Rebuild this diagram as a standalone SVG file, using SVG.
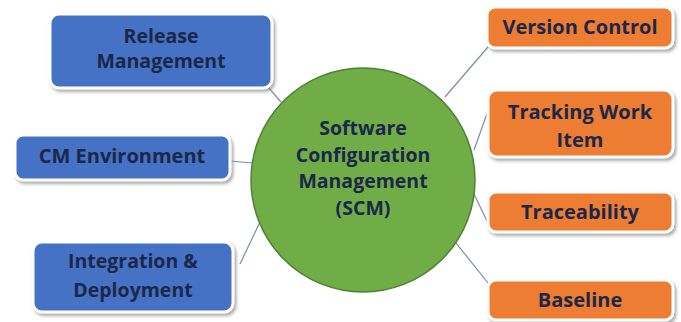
<svg xmlns="http://www.w3.org/2000/svg" width="681" height="322" viewBox="0 0 681 322">
  <defs>
    <filter id="shadow" x="-10%" y="-20%" width="125%" height="150%">
      <feDropShadow dx="2" dy="2.5" stdDeviation="1.5" flood-color="#8a8a8a" flood-opacity="0.7"/>
    </filter>
  </defs>
  <style>
    .box { stroke: #ffffff; stroke-width: 3; filter: url(#shadow); }
    .blue { fill: #4472c4; }
    .orange { fill: #ed7d31; }
    .hub { fill: #70ad47; stroke: #4f7f35; stroke-width: 1.5; }
    .lbl { font-family: "Open Sans", "Liberation Sans", sans-serif; font-weight: 700; fill: #1b2748; text-anchor: middle; }
    .link { stroke: #7c8aa3; stroke-width: 1.2; fill: none; }
  </style>

  <!-- connectors between the hub and the surrounding topics -->
  <g id="connectors">
    <line class="link" x1="262" y1="80" x2="281" y2="102"/>
    <line class="link" x1="230" y1="161" x2="252" y2="163"/>
    <line class="link" x1="240" y1="264" x2="260" y2="222"/>
    <line class="link" x1="488" y1="47" x2="445" y2="97"/>
    <line class="link" x1="489" y1="108" x2="474" y2="150"/>
    <line class="link" x1="473" y1="192" x2="488" y2="223"/>
    <line class="link" x1="452" y1="238" x2="488" y2="283"/>
  </g>

  <!-- central hub -->
  <g id="scm">
    <circle class="hub" cx="363" cy="180" r="112"/>
    <text class="lbl" font-size="19.5" x="363" y="135">Software</text>
    <text class="lbl" font-size="19.5" x="363" y="162">Configuration</text>
    <text class="lbl" font-size="19.5" x="363" y="188">Management</text>
    <text class="lbl" font-size="19.5" x="363" y="215">(SCM)</text>
  </g>

  <!-- left-hand topics -->
  <g id="release-management">
    <rect class="box blue" x="50" y="14" width="222" height="74" rx="9"/>
    <text class="lbl" font-size="19.5" x="161" y="43">Release</text>
    <text class="lbl" font-size="19.5" x="161" y="68">Management</text>
  </g>
  <g id="cm-environment">
    <rect class="box blue" x="15" y="135" width="215" height="45" rx="8"/>
    <text class="lbl" font-size="20" x="122" y="163">CM Environment</text>
  </g>
  <g id="integration-deployment">
    <rect class="box blue" x="33" y="242" width="200" height="70" rx="9"/>
    <text class="lbl" font-size="19.5" x="133" y="268">Integration &amp;</text>
    <text class="lbl" font-size="19.5" x="133" y="297">Deployment</text>
  </g>

  <!-- right-hand topics -->
  <g id="version-control">
    <rect class="box orange" x="487" y="7" width="186" height="41" rx="8"/>
    <text class="lbl" font-size="20" x="580" y="34">Version Control</text>
  </g>
  <g id="tracking-work-item">
    <rect class="box orange" x="488" y="90" width="185" height="67" rx="9"/>
    <text class="lbl" font-size="20" x="580" y="119">Tracking Work</text>
    <text class="lbl" font-size="20" x="580" y="147">Item</text>
  </g>
  <g id="traceability">
    <rect class="box orange" x="488" y="192" width="185" height="40" rx="8"/>
    <text class="lbl" font-size="20" x="580" y="219">Traceability</text>
  </g>
  <g id="baseline">
    <rect class="box orange" x="488" y="280" width="185" height="40" rx="8"/>
    <text class="lbl" font-size="20" x="580" y="307">Baseline</text>
  </g>
</svg>
